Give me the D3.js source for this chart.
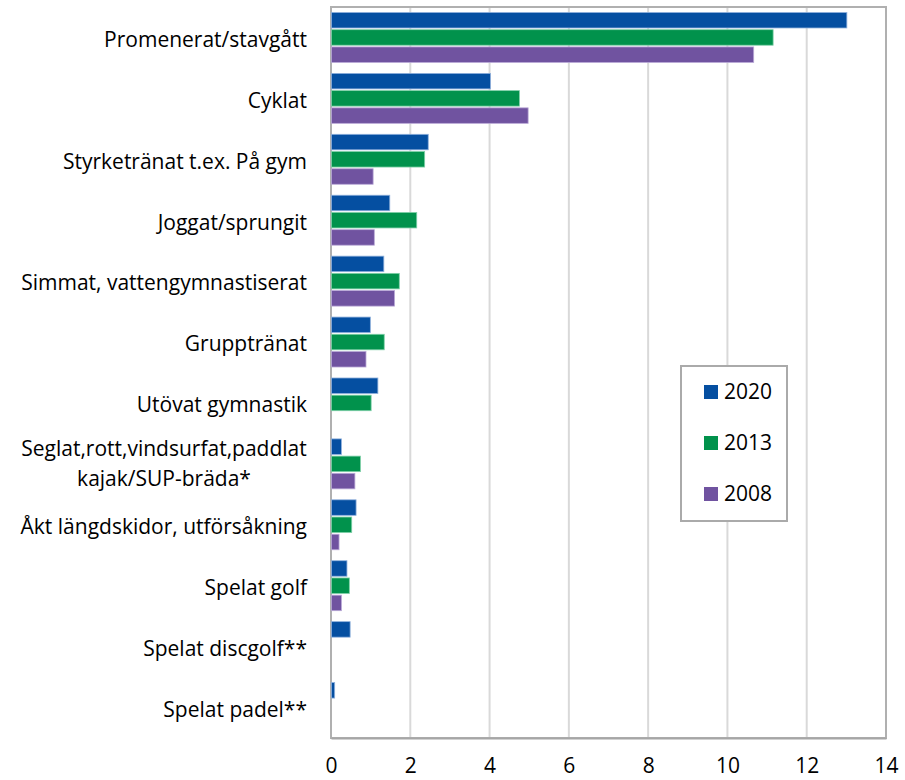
<!DOCTYPE html>
<html><head><meta charset="utf-8">
<script src="https://cdn.jsdelivr.net/npm/d3@7"></script>
<style>body{margin:0;background:#fff}svg{display:block}text{font-family:"Open Sans",sans-serif;fill:#000}</style>
</head><body><svg id="c" width="905" height="780"></svg>
<script>
const categories = ["Promenerat/stavgått","Cyklat","Styrketränat t.ex. På gym","Joggat/sprungit","Simmat, vattengymnastiserat","Grupptränat","Utövat gymnastik","Seglat,rott,vindsurfat,paddlat\nkajak/SUP-bräda*","Åkt längdskidor, utförsåkning","Spelat golf","Spelat discgolf**","Spelat padel**"];
const seriesNames = ["2020","2013","2008"];
const v2020 = [13.0,4.01,2.44,1.47,1.32,0.98,1.17,0.25,0.62,0.39,0.47,0.08];
const v2013 = [11.14,4.74,2.35,2.15,1.71,1.33,1.0,0.73,0.51,0.45,null,null];
const v2008 = [10.65,4.96,1.05,1.08,1.59,0.87,null,0.59,0.19,0.25,null,null];
const xTicks = [0,2,4,6,8,10,12,14];
const colors = ["#054fa1","#01924c","#7053a0"];
const strokes = ["#8fb0dc","#7fd0a8","#b9a8d6"];

const svg = d3.select("#c");
const L=331, R=886, T=7, B=738;
const FS = 21;
const x = d3.scaleLinear().domain([0,14]).range([L,R]);
const y0 = d3.scaleBand().domain(categories).range([T,B]).paddingInner(0.18).paddingOuter(0.09);
const y1 = d3.scaleBand().domain(seriesNames).range([0,y0.bandwidth()]).paddingInner(0.1);
const vals = [v2020,v2013,v2008];

svg.append("g").selectAll("line").data(xTicks.slice(1,-1)).join("line")
 .attr("x1",d=>x(d)).attr("x2",d=>x(d)).attr("y1",T).attr("y2",B)
 .attr("stroke","#d9d9d9").attr("stroke-width",2);
svg.append("rect").attr("x",L).attr("y",T).attr("width",R-L).attr("height",B-T)
 .attr("fill","none").attr("stroke","#b0b0b0").attr("stroke-width",2);

const rows=[];
categories.forEach((c,i)=>seriesNames.forEach((s,j)=>{ if(vals[j][i]!=null) rows.push({c,s,j,v:vals[j][i]}); }));
svg.append("g").selectAll("rect").data(rows).join("rect")
 .attr("x",x(0)+0.5).attr("y",d=>y0(d.c)+y1(d.s))
 .attr("width",d=>x(d.v)-x(0)).attr("height",y1.bandwidth())
 .attr("fill",d=>colors[d.j]).attr("stroke",d=>strokes[d.j]).attr("stroke-width",0.8);

const xa = d3.axisBottom(x).tickValues(xTicks).tickSize(0).tickPadding(20);
const gx = svg.append("g").attr("transform",`translate(0,${B})`).call(xa);
gx.select(".domain").attr("stroke","#a6a6a6").attr("stroke-width",2);
gx.selectAll("text").attr("font-size",FS).attr("font-family","'Open Sans',sans-serif");

const lab = svg.append("g");
categories.forEach(c=>{
  const lines=c.split("\n");
  const cy=y0(c)+y0.bandwidth()/2;
  if(lines.length===1){
    lab.append("text").attr("x",307).attr("y",cy+2).attr("dy","0.35em").attr("text-anchor","end").attr("font-size",FS).text(c);
  } else {
    const t=lab.append("text").attr("font-size",FS).attr("text-anchor","middle");
    lines.forEach((ln,k)=>t.append("tspan").attr("x",164).attr("y",cy+(k-(lines.length-1)/2)*30).attr("dy","0.35em").text(ln));
  }
});

const lg = svg.append("g");
lg.append("rect").attr("x",681).attr("y",366).attr("width",106).attr("height",155)
 .attr("fill","#fff").attr("stroke","#aaaaaa").attr("stroke-width",2);
seriesNames.forEach((s,i)=>{
  const cy=[392,443,494][i];
  lg.append("rect").attr("x",704).attr("y",cy-7).attr("width",14).attr("height",14).attr("fill",colors[i]);
  lg.append("text").attr("x",724).attr("y",cy).attr("dy","0.35em").attr("font-size",FS).text(s);
});
</script></body></html>
